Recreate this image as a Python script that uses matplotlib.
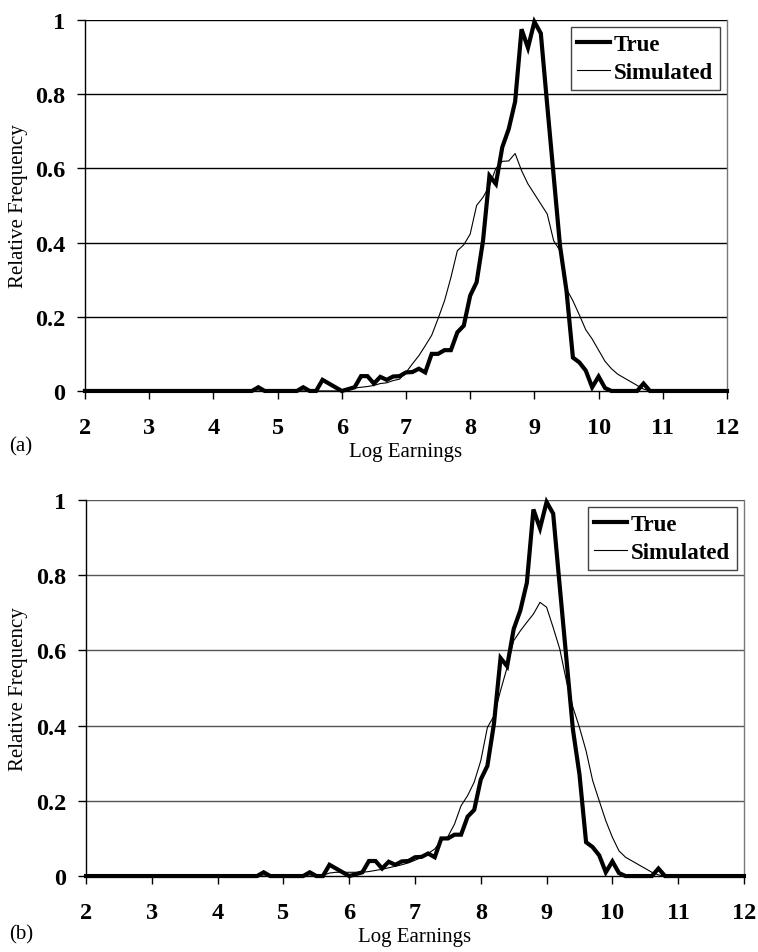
import matplotlib
matplotlib.use("Agg")
import matplotlib.pyplot as plt

# log earnings bins, 2.0 .. 12.0 in steps of 0.1
bins = [round(2 + 0.1 * i, 1) for i in range(101)]

true_freq = [
    0, 0, 0, 0, 0, 0, 0, 0, 0, 0,                      # 2.0 - 2.9
    0, 0, 0, 0, 0, 0, 0, 0, 0, 0,                      # 3.0 - 3.9
    0, 0, 0, 0, 0, 0, 0, 0.01, 0, 0,                   # 4.0 - 4.9
    0, 0, 0, 0, 0.01, 0, 0, 0.03, 0.02, 0.01,          # 5.0 - 5.9
    0, 0.005, 0.01, 0.04, 0.04, 0.02, 0.038, 0.03, 0.039, 0.04,   # 6.0 - 6.9
    0.05, 0.051, 0.06, 0.05, 0.10, 0.10, 0.11, 0.11, 0.158, 0.176,  # 7.0 - 7.9
    0.257, 0.293, 0.405, 0.58, 0.558, 0.657, 0.706, 0.78, 0.975, 0.925,  # 8.0 - 8.9
    0.995, 0.964, 0.77, 0.58, 0.39, 0.27, 0.09, 0.077, 0.055, 0.01,  # 9.0 - 9.9
    0.039, 0.008, 0, 0, 0, 0, 0, 0.02, 0, 0,           # 10.0 - 10.9
    0, 0, 0, 0, 0, 0, 0, 0, 0, 0,                      # 11.0 - 11.9
    0,                                                 # 12.0
]

sim_a = [
    0, 0, 0, 0, 0, 0, 0, 0, 0, 0,
    0, 0, 0, 0, 0, 0, 0, 0, 0, 0,
    0, 0, 0, 0, 0, 0, 0, 0, 0, 0,
    0, 0, 0, 0, 0, 0, 0, 0, 0, 0,
    0, 0.005, 0.008, 0.01, 0.012, 0.015, 0.02, 0.022, 0.028, 0.032,
    0.05, 0.073, 0.095, 0.122, 0.15, 0.195, 0.243, 0.306, 0.378, 0.394,
    0.423, 0.50, 0.522, 0.553, 0.60, 0.619, 0.62, 0.64, 0.594, 0.558,
    0.531, 0.504, 0.477, 0.405, 0.378, 0.275, 0.243, 0.205, 0.165, 0.14,
    0.11, 0.08, 0.06, 0.045, 0.035, 0.025, 0.015, 0.005, 0, 0,
    0, 0, 0, 0, 0, 0, 0, 0, 0, 0,
    0,
]

sim_b = [
    0, 0, 0, 0, 0, 0, 0, 0, 0, 0,
    0, 0, 0, 0, 0, 0, 0, 0, 0, 0,
    0, 0, 0, 0, 0, 0, 0, 0, 0, 0,
    0, 0, 0, 0, 0, 0, 0.002, 0.008, 0.01, 0.01,
    0.01, 0.01, 0.01, 0.012, 0.015, 0.018, 0.022, 0.026, 0.03, 0.035,
    0.042, 0.05, 0.06, 0.072, 0.095, 0.105, 0.138, 0.187, 0.214, 0.25,
    0.307, 0.395, 0.426, 0.493, 0.555, 0.626, 0.652, 0.675, 0.697, 0.728,
    0.715, 0.661, 0.604, 0.52, 0.449, 0.395, 0.333, 0.254, 0.2, 0.147,
    0.103, 0.067, 0.05, 0.04, 0.03, 0.02, 0.01, 0.003, 0, 0,
    0, 0, 0, 0, 0, 0, 0, 0, 0, 0,
    0,
]

xticks = [2, 3, 4, 5, 6, 7, 8, 9, 10, 11, 12]
yticks = [0, 0.2, 0.4, 0.6, 0.8, 1.0]
ytick_labels = ["0", "0.2", "0.4", "0.6", "0.8", "1"]

serif = "Liberation Serif"


def draw_panel(ax, sim, tag, grid_color, tag_xy, ylab_x, xlab_y):
    ax.plot(bins, true_freq, color="black", lw=3.0, label="True",
            solid_joinstyle="miter", clip_on=False, zorder=3)
    ax.plot(bins, sim, color="black", lw=0.8, label="Simulated", zorder=2)
    ax.set_xlim(2, 12)
    ax.set_ylim(0, 1)
    ax.set_xticks(xticks)
    ax.set_xticklabels([str(t) for t in xticks], fontfamily=serif,
                       fontweight="bold", fontsize=17.5)
    ax.set_yticks(yticks)
    ax.set_yticklabels(ytick_labels, fontfamily=serif, fontweight="bold",
                       fontsize=17.5)
    ax.tick_params(axis="x", direction="out", length=6, width=1, pad=13)
    ax.tick_params(axis="y", direction="out", length=6, width=1, pad=8)
    for y in yticks[1:]:
        ax.axhline(y, color=grid_color, lw=1.0, zorder=1)
    ax.spines["top"].set_visible(False)
    ax.spines["right"].set_color("#777777")
    ax.spines["right"].set_linewidth(1.0)
    ax.spines["left"].set_linewidth(1.0)
    ax.spines["bottom"].set_linewidth(1.0)
    ax.set_xlabel("Log Earnings", fontfamily=serif, fontsize=15, va="center")
    ax.xaxis.set_label_coords(0.5, xlab_y)
    ax.set_ylabel("Relative Frequency", fontfamily=serif, fontsize=15,
                  va="center")
    ax.yaxis.set_label_coords(ylab_x, 0.5)
    leg = ax.legend(loc="upper right", frameon=True, fancybox=False,
                    framealpha=1, edgecolor="#444444", borderpad=0.3,
                    borderaxespad=0.3, handlelength=1.4, handletextpad=0.2,
                    labelspacing=0.3,
                    prop={"family": serif, "weight": "bold", "size": 16.5})
    leg.get_frame().set_linewidth(1.0)
    ax.text(tag_xy[0], tag_xy[1], tag, transform=ax.transAxes,
            fontfamily=serif, fontsize=15, ha="center", va="center")


fig = plt.figure(figsize=(7.58, 9.53), dpi=100)
ax_a = fig.add_axes([0.1121, 0.5887, 0.847, 0.3893])
ax_b = fig.add_axes([0.1135, 0.0797, 0.868, 0.3945])
draw_panel(ax_a, sim_a, "(a)", "black", (-0.100, -0.148), -0.104, -0.162)
draw_panel(ax_b, sim_b, "(b)", "#555555", (-0.099, -0.154), -0.103, -0.160)

fig.savefig("out.png", dpi=100)
